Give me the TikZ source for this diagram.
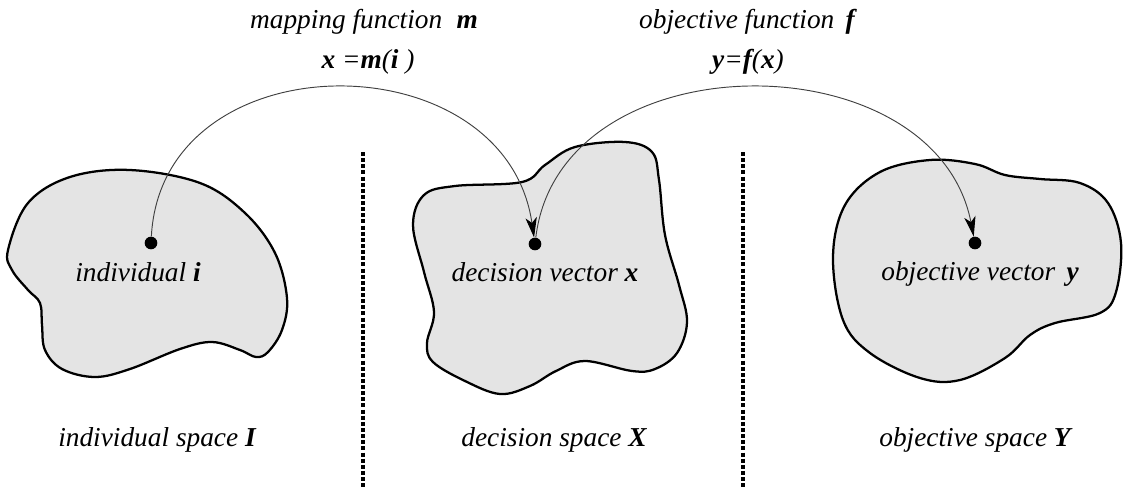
\documentclass[tikz,border=0pt]{standalone}
\usepackage{fontspec}
\setmainfont{Liberation Serif}
\usetikzlibrary{arrows.meta}
\begin{document}
\begin{tikzpicture}[x=0.75pt,y=-0.75pt,
  blob/.style={draw=black,line width=1.7pt,fill=blobgray},
  dot/.style={circle,fill=black,inner sep=0pt,minimum size=9.5pt},
  arr/.style={draw=black!75,line width=0.7pt,-{Stealth[length=15pt,width=8.5pt,inset=4pt,fill=black,color=black]}},
  lbl/.style={font=\fontsize{20.5}{24}\selectfont\itshape,inner sep=0pt},
  sep/.style={draw=black,line width=3pt,dash pattern=on 3pt off 1.6pt}]
\definecolor{blobgray}{HTML}{E4E4E4}
\useasboundingbox (0,0) rectangle (1126,489);
% separators
\draw[sep] (363,152) -- (363,489);
\draw[sep] (743,152) -- (743,489);
% blobs
\draw[blob] plot[smooth cycle,tension=0.6] coordinates {
 (8,250) (28,203) (70,177) (130,170) (200,183) (245,213) (275,253) (287,298)
 (282,330) (268,352) (256,357) (240,350) (212,342) (180,349) (130,369) (95,377)
 (62,369) (45,350) (42,325) (40,303) (28,290) (12,270)};
\draw[blob] plot[smooth cycle,tension=0.6] coordinates {
 (413,225) (424,195) (455,186) (522,182) (545,165) (575,147) (625,142) (652,152)
 (659,180) (665,235) (679,285) (687,322) (677,353) (655,369) (632,371)
 (585,361) (556,371) (530,386) (500,394) (465,381) (433,362) (427,343) (434,312)
 (424,272)};
\draw[blob] plot[smooth cycle,tension=0.6] coordinates {
 (833,257) (845,205) (880,172) (930,160) (975,164) (1005,175) (1040,179) (1080,183)
 (1108,203) (1121,243) (1116,292) (1100,313) (1055,323) (1030,335) (1005,358)
 (960,380) (920,378) (870,353) (843,320)};
% points
\node[dot] (pi) at (151,243) {};
\node[dot] (px) at (535,244) {};
\node[dot] (py) at (975,243) {};
% point labels
\node[lbl] (li) at (138,272) {individual \textbf{i}};
\node[lbl] (lx) at (545,272) {decision vector \textbf{x}};
\node[lbl] (ly) at (980,274) {objective vector \,\textbf{y}};
% arrows
\draw[arr] (pi) .. controls (162,38) and (505,38) .. (px);
\draw[arr] (px) .. controls (560,38) and (935,38) .. (py);
% top labels
\node[lbl] (tm) at (364,22) {mapping function \;\textbf{m}};
\node[lbl] (em) at (368,62) {\textbf{x} =\textbf{m}(\textbf{i} )};
\node[lbl] (tf) at (747,22) {objective function \,\textbf{f}};
\node[lbl] (ef) at (748,62) {\textbf{y}=\textbf{f}(\textbf{x})};
% space labels
\node[lbl] (si) at (157,440) {individual space \textbf{I}};
\node[lbl] (sx) at (554,440) {decision space \textbf{X}};
\node[lbl] (sy) at (975,440) {objective space \textbf{Y}};
\end{tikzpicture}
\end{document}
